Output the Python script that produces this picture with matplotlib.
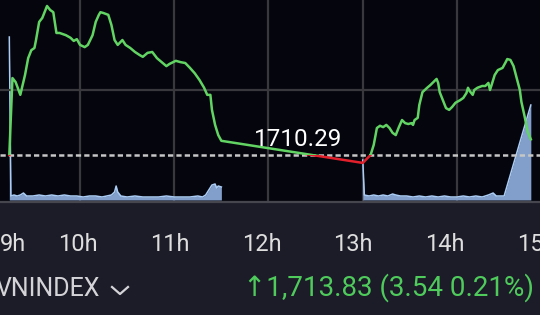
import matplotlib
matplotlib.use("Agg")
import matplotlib.pyplot as plt
from matplotlib.patches import Rectangle
from matplotlib.lines import Line2D

# ---------------- data ----------------
ref_price = 1710.29
last_price = 1713.83
change = 3.54
change_pct = 0.21

# minutes after 09:00
price_min = [15, 17, 19, 22, 25, 27, 29, 31, 32, 34, 36, 39, 41, 43, 45, 47, 51, 54, 56, 58,
             60, 63, 65, 68, 70, 72, 73, 75, 78, 80, 82, 84, 87, 89, 92, 95, 98, 100, 103, 106,
             109, 112, 115, 117, 121, 124, 127, 130, 133, 136, 139, 141, 143, 144, 146, 148, 150,
             240, 245, 247, 249, 251, 253, 255, 257, 259, 261, 263, 265, 267, 269, 271, 272, 273,
             275, 276, 278, 281, 283, 285, 287, 288, 289, 291, 293, 295, 297, 299, 302, 304, 306,
             307, 308, 310, 311, 313, 316, 318, 320, 321, 322, 324, 326, 329, 331, 332, 334, 336,
             338, 340, 341, 343, 345, 347]
price = [1710.29, 1727.7, 1726.8, 1723.9, 1728.4, 1732.2, 1734.0, 1734.5, 1736.3, 1740.4,
         1741.3, 1744.0, 1743.1, 1742.6, 1737.9, 1737.9, 1737.4, 1736.8, 1736.1, 1736.5,
         1735.2, 1734.7, 1735.2, 1737.4, 1740.4, 1742.0, 1742.6, 1742.4, 1742.0, 1739.7,
         1736.3, 1735.2, 1736.3, 1735.2, 1734.5, 1733.6, 1732.9, 1732.5, 1733.4, 1733.6,
         1732.2, 1731.3, 1730.4, 1730.9, 1731.6, 1731.3, 1731.1, 1730.0, 1728.8, 1727.3,
         1725.5, 1723.9, 1723.9, 1720.5, 1717.1, 1714.8, 1713.5,
         1708.5, 1710.3, 1712.6, 1716.4, 1716.9, 1716.6, 1717.1, 1716.4, 1715.3, 1714.8,
         1716.6, 1718.2, 1717.5, 1717.3, 1717.5, 1717.1, 1718.2, 1718.7, 1721.6, 1724.5,
         1725.5, 1726.1, 1726.8, 1727.5, 1726.6, 1724.5, 1722.7, 1720.9, 1720.5, 1721.2,
         1722.1, 1722.7, 1723.2, 1724.3, 1725.5, 1724.8, 1723.9, 1725.0, 1725.5, 1725.9,
         1725.9, 1726.6, 1725.0, 1726.1, 1728.4, 1729.5, 1730.0, 1731.3, 1732.0, 1731.8,
         1730.4, 1727.7, 1725.0, 1722.3, 1719.1, 1715.5, 1713.83]

vol_am_min = [15, 16, 18, 20, 22, 24, 26, 30, 34, 38, 42, 46, 50, 54, 58, 62, 66, 70, 74, 77,
              80, 82, 83, 84, 86, 90, 95, 100, 105, 110, 115, 120, 125, 130, 135, 138, 140,
              142, 144, 146, 147, 148, 150]
vol_am = [163, 4, 5, 4, 5, 7, 4, 4, 5, 4, 5, 4, 5, 4, 4, 3, 4, 4, 3, 4,
          5, 8, 14, 8, 4, 3, 4, 3, 3, 3, 4, 3, 3, 3, 4, 3, 5,
          10, 15, 16, 12, 14, 13]
vol_pm_min = [240, 241, 244, 247, 250, 253, 256, 259, 261, 264, 268, 272, 276, 280, 284, 288,
              292, 296, 300, 304, 308, 312, 316, 320, 323, 325, 330, 347]
vol_pm = [40, 5, 4, 5, 4, 5, 4, 6, 5, 4, 4, 3, 4, 3, 4, 3,
          4, 3, 3, 4, 3, 4, 3, 5, 7, 4, 4, 95]

hour_ticks = [10, 11, 12, 13, 14]
label_pos = [9.29, 10, 11, 12, 13, 14, 15]
label_text = ["9h", "10h", "11h", "12h", "13h", "14h", "15h"]
grid_price = 1725

to_h = lambda ms: [9 + m / 60 for m in ms]

# ---------------- style ----------------
W, H = 540, 315
bg_bottom = "#1c1c29"
bg_chart = "#05050d"
green = "#62d463"
red = "#e2202c"
grid_c = "#38383d"
fill_c = "#819fca"
fill_edge = "#abcdf5"
fnt = ["Roboto", "DejaVu Sans"]

fig = plt.figure(figsize=(W / 100, H / 100), dpi=100, facecolor=bg_bottom)
chart_h = 202
rect = [0, 1 - chart_h / H, 1, chart_h / H]

xlim = (9 + 0.1512, 9 + 0.1512 + 540 / 94.25)

# volume axis (bottom layer)
vax = fig.add_axes(rect, facecolor=bg_chart)
vax.set_xlim(*xlim)
vax.set_ylim(-2, 200)
for t in hour_ticks:
    vax.axvline(t, color=grid_c, lw=1.6, zorder=0)
vax.fill_between(to_h(vol_am_min), 0, vol_am, color=fill_c, lw=0, zorder=2)
vax.plot(to_h(vol_am_min), vol_am, color=fill_edge, lw=1.1, zorder=3)
vax.fill_between(to_h(vol_pm_min), 0, vol_pm, color=fill_c, lw=0, zorder=2)
vax.plot(to_h(vol_pm_min), vol_pm, color=fill_edge, lw=1.1, zorder=3)
vax.set_xticks([])
vax.set_yticks([])
for s in ["top", "left", "right"]:
    vax.spines[s].set_visible(False)
vax.spines["bottom"].set_color("#46464e")
vax.spines["bottom"].set_linewidth(1.6)

# price axis
ax = fig.add_axes(rect)
ax.patch.set_visible(False)
ax.set_xlim(*xlim)
ax.set_ylim(1745.358 - chart_h / 4.42, 1745.358)
ax.axhline(grid_price, color=grid_c, lw=1.6, zorder=0)
ax.axhline(ref_price, color="#c6c6c6", lw=1.8, dashes=(2.1, 1.25), zorder=1)
for s in ax.spines.values():
    s.set_visible(False)
ax.set_xticks([])
ax.set_yticks([])

ph = to_h(price_min)
above = Rectangle((xlim[0], ref_price), xlim[1] - xlim[0], 100, transform=ax.transData)
below = Rectangle((xlim[0], ref_price - 100), xlim[1] - xlim[0], 100, transform=ax.transData)
lg, = ax.plot(ph, price, color=green, lw=1.8, zorder=4, solid_joinstyle="round")
lg.set_clip_path(above)
lr, = ax.plot(ph, price, color=red, lw=1.8, zorder=4, solid_joinstyle="round")
lr.set_clip_path(below)

ax.annotate(f"{ref_price:.2f}", xy=(12.313, ref_price), xytext=(0, 6.5),
            textcoords="offset points", ha="center", va="baseline",
            color="white", fontsize=17.5, family=fnt, zorder=5)

# hour labels axis
lab = fig.add_axes(rect)
lab.patch.set_visible(False)
lab.set_xlim(9.150, 9.150 + 540 / 91.75)
lab.set_yticks([])
for s in lab.spines.values():
    s.set_visible(False)
lab.set_xticks(label_pos, label_text)
lab.tick_params(axis="x", length=0, pad=22, labelsize=17, labelcolor="#dedede")
for t in lab.get_xticklabels():
    t.set_family(fnt)

# bottom info row
fig.text(100 / W, 1 - 296 / H, "VNINDEX", ha="right", va="baseline",
         color="#d4d4d8", fontsize=18, family=fnt)
fig.add_artist(Line2D([112 / W, 120 / W, 128 / W],
                      [1 - 287 / H, 1 - 294 / H, 1 - 287 / H],
                      color="#d4d4d8", lw=1.6, transform=fig.transFigure))
fig.text(243 / W, 1 - 296 / H,
         f"\u2191{last_price:,.2f} ({change:.2f} {change_pct:.2f}%)",
         ha="left", va="baseline", color="#4fcb5c", fontsize=20, family=fnt)

fig.savefig("out.png", dpi=100, facecolor=bg_bottom)
